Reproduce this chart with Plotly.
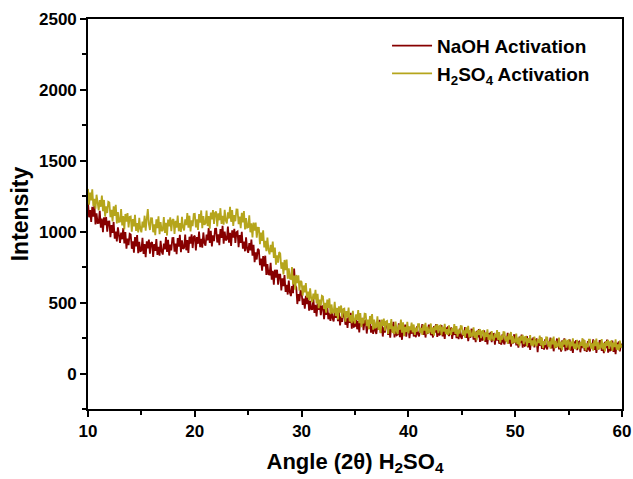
import plotly.graph_objects as go

# 2-theta scan grid (degrees): 10 to 60 in 0.1 degree steps
two_theta_start = 10.0
two_theta_step = 0.1
n_points = 501
two_theta = [round(two_theta_start + i * two_theta_step, 1) for i in range(n_points)]

# Intensity of the NaOH-activated sample, one row per degree
naoh_intensity = [
    1206, 1102, 1152, 1069, 1175, 1106, 1184, 1052, 1130, 1061,   # 10
    1062, 1147, 1029, 1093, 996, 1102, 1047, 1104, 1000, 1071,    # 11
    1072, 961, 1046, 991, 1069, 951, 1001, 932, 1031, 948,        # 12
    921, 994, 947, 1026, 917, 997, 880, 952, 906, 986,            # 13
    981, 880, 933, 853, 962, 896, 977, 848, 929, 863,             # 14
    867, 957, 844, 913, 821, 932, 882, 944, 845, 921,             # 15
    927, 822, 913, 865, 949, 837, 894, 831, 936, 860,             # 16
    839, 917, 876, 962, 858, 943, 832, 910, 869, 955,             # 17
    956, 860, 917, 842, 955, 894, 979, 855, 940, 879,             # 18
    887, 980, 869, 941, 851, 965, 917, 982, 885, 964,             # 19
    972, 869, 962, 915, 1001, 891, 949, 888, 995, 920,            # 20
    901, 980, 939, 1025, 921, 1007, 896, 975, 934, 1020,          # 21
    1021, 924, 981, 905, 1018, 956, 1041, 916, 1001, 939,         # 22
    947, 1037, 923, 992, 899, 1010, 959, 1021, 921, 997,          # 23
    1002, 891, 976, 921, 999, 881, 931, 862, 961, 878,            # 24
    851, 920, 869, 945, 831, 907, 786, 855, 804, 880,             # 25
    871, 764, 811, 725, 828, 756, 831, 696, 771, 699,             # 26
    697, 781, 662, 725, 627, 732, 676, 732, 627, 697,             # 27
    697, 586, 671, 616, 694, 576, 626, 557, 656, 573,             # 28
    546, 616, 567, 740, 620, 609, 490, 560, 511, 588,             # 29
    573, 484, 528, 457, 548, 490, 557, 444, 512, 453,             # 30
    454, 528, 428, 485, 403, 495, 449, 499, 411, 474,             # 31
    476, 383, 458, 413, 482, 383, 428, 371, 458, 389,             # 32
    368, 431, 392, 462, 369, 438, 339, 402, 364, 433,             # 33
    430, 344, 389, 321, 414, 358, 428, 317, 387, 330,             # 34
    334, 410, 312, 370, 290, 384, 340, 392, 306, 370,             # 35
    374, 282, 359, 315, 386, 288, 334, 279, 367, 300,             # 36
    280, 345, 308, 378, 287, 358, 261, 326, 289, 359,             # 37
    358, 273, 320, 253, 348, 293, 364, 255, 326, 271,             # 38
    276, 354, 257, 317, 238, 334, 291, 345, 260, 326,             # 39
    325, 250, 315, 281, 341, 261, 301, 256, 332, 277,             # 40
    262, 317, 288, 348, 273, 334, 254, 309, 280, 340,             # 41
    340, 270, 310, 254, 334, 289, 349, 258, 318, 273,             # 42
    278, 342, 262, 311, 245, 325, 289, 333, 263, 317,             # 43
    320, 244, 308, 272, 331, 250, 289, 243, 317, 261,             # 44
    245, 299, 268, 327, 251, 310, 229, 283, 252, 311,             # 45
    310, 239, 278, 222, 301, 255, 314, 223, 282, 236,             # 46
    240, 304, 223, 272, 206, 285, 249, 293, 222, 276,             # 47
    280, 204, 268, 232, 291, 210, 249, 203, 277, 221,             # 48
    205, 259, 228, 287, 211, 270, 189, 243, 212, 271,             # 49
    270, 199, 238, 182, 261, 215, 274, 183, 242, 196,             # 50
    200, 264, 184, 233, 167, 246, 211, 255, 184, 238,             # 51
    242, 150, 231, 195, 255, 174, 213, 168, 242, 186,             # 52
    170, 225, 194, 254, 178, 238, 157, 212, 181, 241,             # 53
    240, 170, 209, 154, 234, 189, 248, 158, 218, 172,             # 54
    177, 242, 162, 211, 146, 226, 191, 235, 165, 220,             # 55
    225, 150, 214, 179, 239, 159, 198, 153, 228, 172,             # 56
    157, 212, 182, 241, 166, 226, 146, 200, 170, 230,             # 57
    230, 160, 200, 144, 224, 179, 239, 148, 208, 163,             # 58
    168, 233, 152, 202, 137, 217, 181, 226, 156, 210,             # 59
    190,                                                          # 60
]

# Intensity of the H2SO4-activated sample, one row per degree
h2so4_intensity = [
    1302, 1191, 1276, 1221, 1299, 1181, 1231, 1162, 1261, 1178,   # 10
    1151, 1223, 1176, 1255, 1145, 1224, 1107, 1179, 1132, 1211,   # 11
    1206, 1103, 1154, 1072, 1179, 1111, 1190, 1059, 1138, 1070,   # 12
    1072, 1160, 1044, 1111, 1016, 1125, 1072, 1132, 1030, 1104,   # 13
    1107, 1000, 1089, 1038, 1120, 1006, 1060, 995, 1098, 1019,    # 14
    996, 1072, 1030, 1113, 1007, 1091, 1160, 1054, 1012, 1095,    # 15
    1094, 996, 1052, 976, 1088, 1025, 1109, 983, 1068, 1005,      # 16
    1012, 1104, 992, 1063, 973, 1086, 1037, 1101, 1004, 1081,     # 17
    1089, 985, 1077, 1029, 1114, 1003, 1061, 999, 1105, 1029,     # 18
    1009, 1087, 1046, 1132, 1028, 1113, 1002, 1080, 1040, 1125,   # 19
    1126, 1030, 1087, 1012, 1125, 1064, 1150, 1025, 1111, 1049,   # 20
    1058, 1150, 1040, 1111, 1022, 1135, 1087, 1152, 1055, 1134,   # 21
    1142, 1038, 1130, 1081, 1166, 1055, 1112, 1050, 1155, 1079,   # 22
    1059, 1136, 1093, 1176, 1070, 1153, 1041, 1117, 1074, 1157,   # 23
    1156, 1054, 1106, 1025, 1133, 1066, 1146, 1016, 1096, 1029,   # 24
    1032, 1116, 996, 1059, 960, 1065, 1008, 1064, 958, 1028,      # 25
    1027, 913, 994, 936, 1010, 889, 935, 863, 958, 872,           # 26
    841, 908, 856, 930, 815, 889, 767, 834, 782, 856,             # 27
    846, 739, 785, 699, 801, 729, 803, 668, 742, 670,             # 28
    667, 750, 629, 691, 591, 695, 637, 692, 585, 654,             # 29
    646, 550, 621, 573, 638, 536, 577, 517, 600, 528,             # 30
    503, 564, 523, 590, 495, 562, 461, 522, 481, 548,             # 31
    543, 455, 499, 429, 521, 463, 531, 419, 487, 429,             # 32
    431, 506, 406, 463, 382, 474, 429, 480, 392, 455,             # 33
    458, 365, 441, 396, 465, 367, 412, 355, 442, 374,             # 34
    353, 417, 378, 448, 356, 426, 327, 391, 353, 422,             # 35
    420, 334, 380, 312, 406, 350, 420, 310, 380, 324,             # 36
    328, 404, 307, 365, 285, 380, 336, 388, 303, 367,             # 37
    371, 280, 356, 313, 384, 286, 333, 278, 366, 299,             # 38
    280, 345, 309, 380, 289, 361, 264, 329, 293, 364,             # 39
    283, 333, 306, 359, 291, 346, 273, 323, 295, 349,             # 40
    349, 286, 322, 272, 345, 303, 357, 276, 330, 289,             # 41
    294, 353, 280, 326, 267, 339, 307, 348, 285, 335,             # 42
    339, 270, 329, 296, 350, 277, 313, 272, 339, 288,             # 43
    273, 322, 295, 348, 279, 334, 260, 309, 282, 335,             # 44
    334, 270, 305, 253, 325, 283, 336, 254, 307, 264,             # 45
    267, 325, 251, 296, 236, 307, 274, 314, 250, 299,             # 46
    302, 233, 291, 258, 312, 238, 274, 232, 299, 248,             # 47
    233, 282, 254, 307, 238, 292, 218, 267, 239, 292,             # 48
    291, 227, 262, 210, 282, 240, 293, 211, 264, 221,             # 49
    224, 282, 208, 253, 193, 265, 232, 272, 208, 257,             # 50
    260, 191, 250, 217, 271, 198, 234, 192, 260, 209,             # 51
    193, 242, 215, 268, 199, 254, 180, 229, 202, 255,             # 52
    254, 190, 226, 175, 248, 206, 260, 178, 231, 190,             # 53
    194, 253, 179, 225, 165, 237, 205, 245, 182, 231,             # 54
    235, 167, 225, 193, 248, 175, 211, 170, 238, 187,             # 55
    173, 223, 196, 249, 181, 236, 163, 212, 185, 239,             # 56
    239, 176, 212, 162, 234, 193, 247, 166, 220, 179,             # 57
    184, 243, 170, 216, 156, 228, 196, 237, 174, 224,             # 58
    228, 160, 219, 187, 241, 168, 205, 164, 232, 182,             # 59
    205,                                                          # 60
]

series_names = ["NaOH Activation", "H<sub>2</sub>SO<sub>4</sub> Activation"]
series_colors = ["#870000", "#B5A51C"]

font_family = "Liberation Sans, Arial, sans-serif"

fig = go.Figure()
for name, values, color in zip(series_names, [naoh_intensity, h2so4_intensity], series_colors):
    fig.add_trace(go.Scatter(
        x=two_theta, y=values, mode="lines", name=name,
        line=dict(color=color, width=1.8),
    ))

axis_common = dict(
    showline=True, linecolor="black", linewidth=1.6, mirror=True,
    showgrid=False, zeroline=False, automargin=False,
    ticks="outside", ticklen=6, tickwidth=1.6, tickcolor="black",
    tickfont=dict(family=font_family, size=17, color="black", weight="bold"),
)

fig.update_xaxes(
    range=[10, 60], tick0=10, dtick=10,
    minor=dict(ticks="outside", ticklen=4, tickwidth=1.6, tickcolor="black", dtick=5),
    title=dict(text="Angle (2θ) H<sub>2</sub>SO<sub>4</sub>", standoff=13,
               font=dict(family=font_family, size=22, color="black", weight="bold")),
    **axis_common,
)
fig.update_yaxes(
    range=[-250, 2500], tick0=0, dtick=500,
    minor=dict(ticks="outside", ticklen=4, tickwidth=1.6, tickcolor="black", dtick=250),
    title=dict(text="Intensity", standoff=4,
               font=dict(family=font_family, size=23, color="black", weight="bold")),
    **axis_common,
)

fig.update_layout(
    width=633, height=479,
    margin=dict(l=88, r=11, t=19, b=70),
    paper_bgcolor="white", plot_bgcolor="white",
    showlegend=True,
    legend=dict(
        x=0.56, y=0.98, xanchor="left", yanchor="top",
        bgcolor="rgba(0,0,0,0)", borderwidth=0,
        font=dict(family=font_family, size=19, color="black", weight="bold"),
        tracegroupgap=0, itemwidth=40,
    ),
)

fig.write_html("out.html")
